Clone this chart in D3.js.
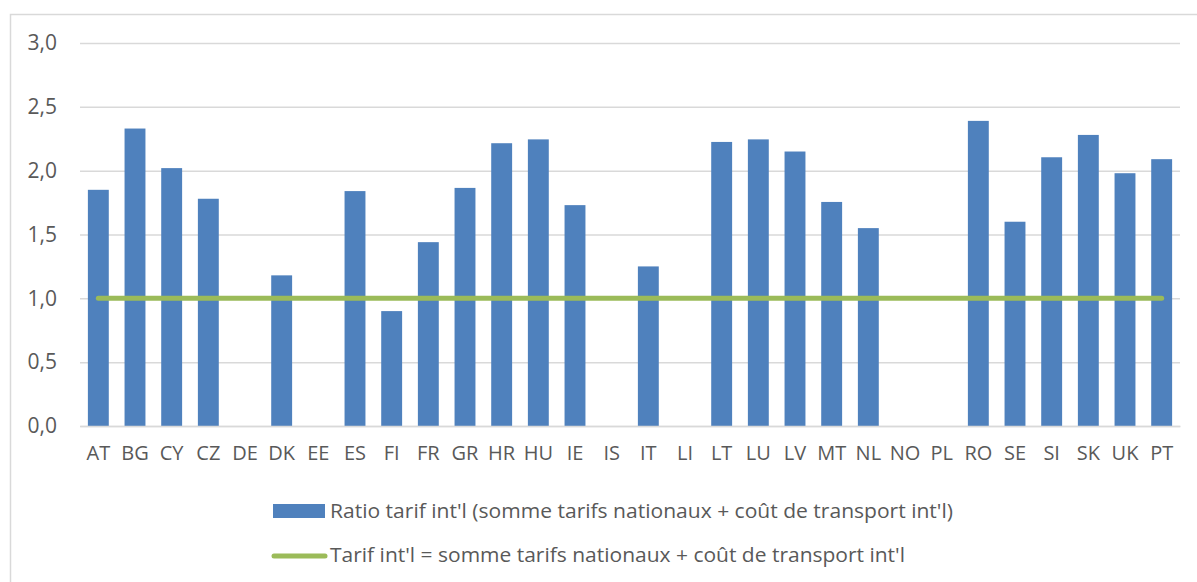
<!DOCTYPE html>
<html>
<head>
<meta charset="utf-8">
<script src="https://cdn.jsdelivr.net/npm/d3@7"></script>
<style>
    body { margin: 0; background: #fff; }
    svg { display: block; }
    svg text { font-family: "Open Sans", Lato, sans-serif; }
</style>
</head>
<body>
<div id="chart"></div>
<script>
// data
const countries = ['AT', 'BG', 'CY', 'CZ', 'DE', 'DK', 'EE', 'ES', 'FI', 'FR', 'GR', 'HR', 'HU', 'IE', 'IS',
    'IT', 'LI', 'LT', 'LU', 'LV', 'MT', 'NL', 'NO', 'PL', 'RO', 'SE', 'SI', 'SK', 'UK', 'PT'];
const ratios = [1.85, 2.33, 2.02, 1.78, 0, 1.18, 0, 1.84, 0.90, 1.44, 1.865, 2.215, 2.245, 1.73, 0,
    1.25, 0, 2.225, 2.245, 2.15, 1.755, 1.55, 0, 0, 2.39, 1.60, 2.105, 2.28, 1.98, 2.09];
const referenceLevel = countries.map(() => 1.0);
const yTicks = [0, 0.5, 1.0, 1.5, 2.0, 2.5, 3.0];
const seriesNames = [
    "Ratio tarif int'l (somme tarifs nationaux + coût de transport int'l)",
    "Tarif int'l = somme tarifs nationaux + coût de transport int'l"
];
const legendWidths = [623, 575]; // measured text widths in the picture

const W = 1197, H = 582;
const plot = { left: 80, right: 1180, top: 43, bottom: 426 };
const blue = '#4f81bd', green = '#9bbb59', grid = '#d9d9d9', textColor = '#595959';

const svg = d3.select('#chart').append('svg')
    .attr('width', W)
    .attr('height', H);

// chart frame
svg.append('rect')
    .attr('x', 10.5).attr('y', 14.5)
    .attr('width', W).attr('height', H)
    .attr('fill', 'none')
    .attr('stroke', grid)
    .attr('stroke-width', 1.5);

const x = d3.scaleBand()
    .domain(countries)
    .range([plot.left, plot.right])
    .paddingInner(0.43)
    .paddingOuter(0.215);

const y = d3.scaleLinear()
    .domain([0, 3])
    .range([plot.bottom, plot.top]);

// gridlines + y labels
const yAxis = svg.append('g')
    .attr('transform', `translate(${plot.left},0)`)
    .call(d3.axisLeft(y).tickValues(yTicks).tickSize(-(plot.right - plot.left))
        .tickPadding(23).tickFormat(d => d3.format('.1f')(d).replace('.', ',')));
yAxis.select('.domain').remove();
yAxis.selectAll('line').attr('stroke', grid).attr('stroke-width', 1.5);
yAxis.selectAll('text')
    .attr('fill', textColor)
    .style('font-size', '21px');

// bars
svg.selectAll('.bar')
    .data(countries.map((c, i) => ({ c, v: ratios[i] })).filter(d => d.v > 0))
    .enter()
    .append('rect')
    .attr('class', 'bar')
    .attr('x', d => x(d.c))
    .attr('y', d => y(d.v))
    .attr('width', x.bandwidth())
    .attr('height', d => y(0) - y(d.v))
    .attr('fill', blue);

// x axis
const xAxis = svg.append('g')
    .attr('transform', `translate(0,${plot.bottom})`)
    .call(d3.axisBottom(x).tickSize(0).tickPadding(20));
xAxis.select('.domain').attr('stroke', grid).attr('stroke-width', 1.5);
xAxis.selectAll('text')
    .attr('fill', textColor)
    .style('font-size', '20px');

// reference line
const line = d3.line()
    .x((d, i) => x(countries[i]) + x.bandwidth() / 2)
    .y(d => y(d));

svg.append('path')
    .datum(referenceLevel)
    .attr('fill', 'none')
    .attr('stroke', green)
    .attr('stroke-width', 5)
    .attr('stroke-linecap', 'round')
    .attr('d', line);

// legend
const legend = svg.append('g');
legend.append('rect')
    .attr('x', 273).attr('y', 504)
    .attr('width', 52).attr('height', 14)
    .attr('fill', blue);
legend.append('line')
    .attr('x1', 274).attr('x2', 325)
    .attr('y1', 556).attr('y2', 556)
    .attr('stroke', green)
    .attr('stroke-width', 5)
    .attr('stroke-linecap', 'round');
legend.selectAll('.legend-label')
    .data(seriesNames)
    .enter()
    .append('text')
    .attr('class', 'legend-label')
    .attr('x', 330)
    .attr('y', (d, i) => 518 + i * 44)
    .attr('fill', textColor)
    .attr('textLength', (d, i) => legendWidths[i])
    .attr('lengthAdjust', 'spacingAndGlyphs')
    .style('font-size', '20px')
    .text(d => d);
</script>
</body>
</html>
